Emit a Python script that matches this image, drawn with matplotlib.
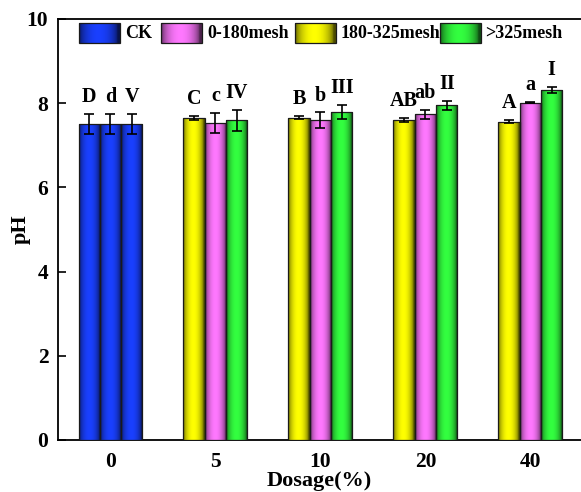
import numpy as np
import matplotlib
matplotlib.use("Agg")
import matplotlib.pyplot as plt
from matplotlib.patches import Rectangle

# ---- data ----
dosages = ["0", "5", "10", "20", "40"]
series_names = ["CK", "0-180mesh", "180-325mesh", ">325mesh"]

ck_ph = [7.50, 7.50, 7.50]
ck_err = [0.24, 0.24, 0.24]
ck_letters = ["D", "d", "V"]

ph_180_325 = [7.65, 7.66, 7.60, 7.56]
err_180_325 = [0.05, 0.04, 0.05, 0.04]
let_180_325 = ["C", "B", "AB", "A"]

ph_0_180 = [7.53, 7.60, 7.74, 8.01]
err_0_180 = [0.23, 0.18, 0.11, 0.01]
let_0_180 = ["c", "b", "ab", "a"]

ph_325 = [7.59, 7.79, 7.95, 8.32]
err_325 = [0.25, 0.17, 0.10, 0.07]
let_325 = ["IV", "III", "II", "I"]

# ---- style ----
plt.rcParams["font.family"] = ["Liberation Serif", "DejaVu Serif"]
plt.rcParams["font.weight"] = "bold"

colors = {
    "CK": (0.10, 0.25, 1.00),
    "0-180mesh": (1.00, 0.47, 1.00),
    "180-325mesh": (1.00, 1.00, 0.00),
    ">325mesh": (0.20, 1.00, 0.25),
}


def gradient(color, n=64):
    t = np.linspace(0, 1, n)
    f = np.sin(np.pi * np.clip(t * 1.05, 0, 1)) ** 0.55
    c = np.array(color)
    dark = c * 0.30
    rgb = dark[None, :] + (c - dark)[None, :] * f[:, None]
    return rgb[None, :, :]


def shade_bar(ax, rect, color, transform=None):
    x0, y0 = rect.get_x(), rect.get_y()
    x1, y1 = x0 + rect.get_width(), y0 + rect.get_height()
    kw = {}
    if transform is not None:
        kw["transform"] = transform
    im = ax.imshow(gradient(color), extent=(x0, x1, y0, y1), aspect="auto",
                   interpolation="bilinear", zorder=rect.get_zorder() - 0.1, **kw)
    im.set_clip_path(rect)


fig = plt.figure(figsize=(5.81, 4.92), dpi=100)
ax = fig.add_axes([0.0998, 0.1057, 0.9035, 0.8557])

w = 0.203
x = np.arange(len(dosages))
err_kw = dict(ecolor="black", elinewidth=1.2, capsize=3.5, capthick=1.2, zorder=5)
edge = "#1a1a1a"


def draw_group(xs, vals, errs, letters, color):
    bars = ax.bar(xs, vals, w, facecolor="none", edgecolor=edge, linewidth=0.9, zorder=3)
    for r in bars:
        shade_bar(ax, r, color)
    ax.errorbar(xs, vals, yerr=errs, fmt="none", **err_kw)
    for xi, v, e, t in zip(xs, vals, errs, letters):
        ax.annotate(t, (xi, v + e), xytext=(0, 5), textcoords="offset points",
                    ha="center", va="bottom", fontsize=14.5, fontweight="bold")


# CK group at dosage 0
draw_group(x[0] + np.array([-w, 0, w]), ck_ph, ck_err, ck_letters, colors["CK"])
# dosage groups
draw_group(x[1:] - w, ph_180_325, err_180_325, let_180_325, colors["180-325mesh"])
draw_group(x[1:], ph_0_180, err_0_180, let_0_180, colors["0-180mesh"])
draw_group(x[1:] + w, ph_325, err_325, let_325, colors[">325mesh"])

ax.set_xlim(-0.5, 4.5)
ax.set_ylim(0, 10)
ax.set_xticks(x)
ax.set_xticklabels(dosages)
ax.set_yticks(np.arange(0, 11, 2))
ax.tick_params(axis="y", direction="in", length=6, width=1.2, labelsize=15.5, pad=7)
ax.tick_params(axis="x", length=0, labelsize=15.5, pad=9)
for lab in ax.get_xticklabels() + ax.get_yticklabels():
    lab.set_fontweight("bold")
for s in ax.spines.values():
    s.set_linewidth(1.3)

ax.set_xlabel("Dosage(%)", fontsize=16, fontweight="bold")
ax.set_ylabel("pH", fontsize=16, fontweight="bold")
ax.xaxis.set_label_coords(0.497, -0.074)
ax.yaxis.set_label_coords(-0.052, 0.5)

# legend with shaded swatches
leg_patch_x = [0.040, 0.196, 0.451, 0.728]
leg_text_x = [0.128, 0.284, 0.539, 0.813]
pw, py0, py1 = 0.078, 0.943, 0.990
for name, px, tx in zip(series_names, leg_patch_x, leg_text_x):
    r = Rectangle((px, py0), pw, py1 - py0, transform=ax.transAxes,
                  facecolor="none", edgecolor=edge, linewidth=0.9, zorder=6)
    ax.add_patch(r)
    shade_bar(ax, r, colors[name], transform=ax.transAxes)
    ax.text(tx, (py0 + py1) / 2, name, transform=ax.transAxes, ha="left",
            va="center", fontsize=13, fontweight="bold", zorder=7)

ax.set_xlim(-0.5, 4.5)
ax.set_ylim(0, 10)

fig.savefig("out.png", dpi=100)
